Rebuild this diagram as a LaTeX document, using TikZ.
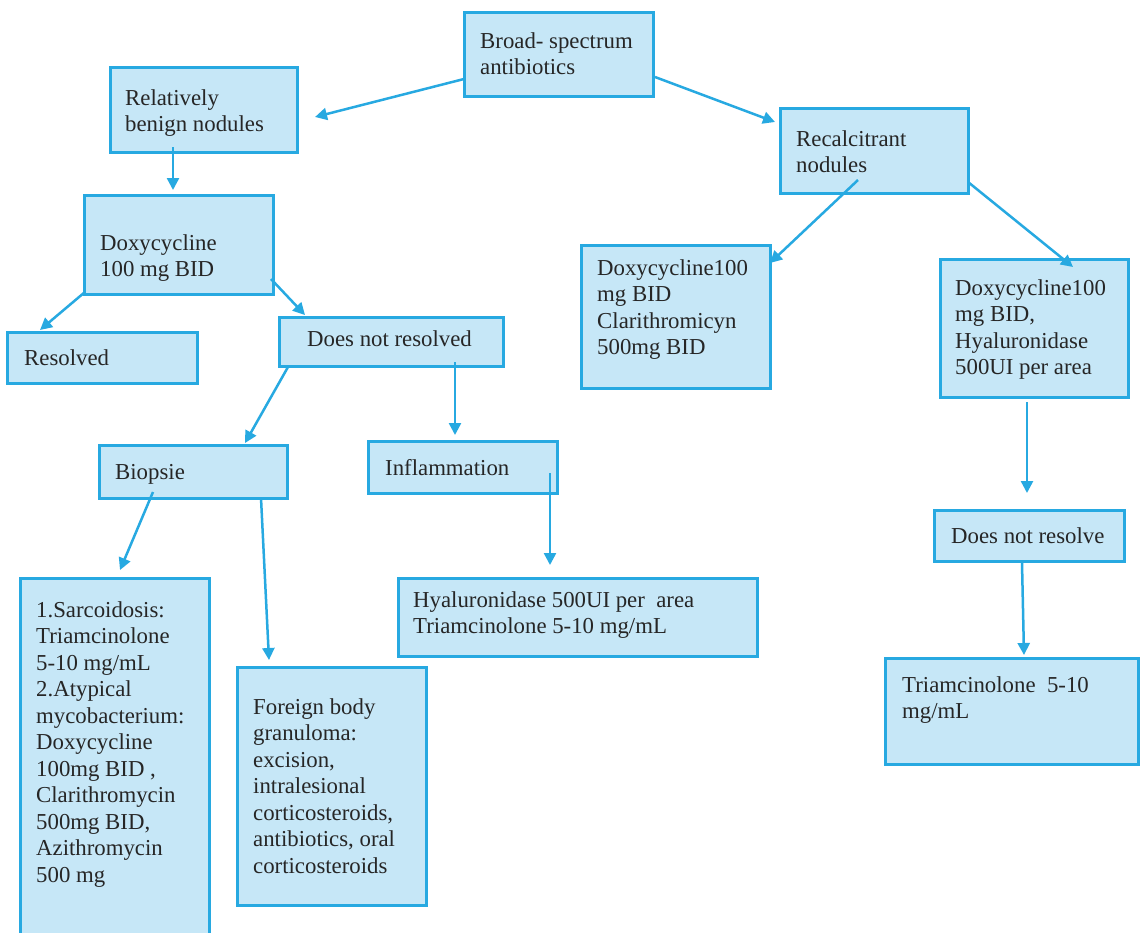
\documentclass[tikz,border=0pt]{standalone}
\usepackage{fontspec}
\setmainfont{Liberation Serif}
\usetikzlibrary{arrows.meta,calc}
\definecolor{bxline}{HTML}{27A9E1}
\definecolor{bxfill}{HTML}{C6E7F7}
\definecolor{txtc}{HTML}{262626}
\newcommand{\lines}[1]{\begin{tabular}[t]{@{}l@{}}#1\end{tabular}}
\begin{document}
\begin{tikzpicture}[x=1pt,y=-1pt,
  box/.style={draw=bxline, fill=bxfill, line width=3pt, rectangle, inner sep=0pt, outer sep=0pt, anchor=north west},
  txt/.style={anchor=base west, inner sep=0pt, text=txtc, font=\fontsize{22.8}{26.5}\selectfont},
  arr/.style={draw=bxline, line width=2.5pt, -{Triangle[length=12pt,width=12pt]}}]
\fill[white] (0,0) rectangle (1140,932);
\clip (0,0) rectangle (1140,932);
% boxes
\node[box, minimum width=189pt, minimum height=84pt] (broad) at (464,12) {};
\node[box, minimum width=187pt, minimum height=85pt] (benign) at (110,67) {};
\node[box, minimum width=188pt, minimum height=85pt] (recal) at (780,108) {};
\node[box, minimum width=189pt, minimum height=99pt] (doxy) at (84,195) {};
\node[box, minimum width=190pt, minimum height=51pt] (resolved) at (7,332) {};
\node[box, minimum width=224pt, minimum height=49pt] (dnr) at (279,317) {};
\node[box, minimum width=188pt, minimum height=53pt] (biopsie) at (99,445) {};
\node[box, minimum width=189pt, minimum height=52pt] (inflam) at (368,441) {};
\node[box, minimum width=189pt, minimum height=143pt] (doxclar) at (581,245) {};
\node[box, minimum width=188pt, minimum height=138pt] (doxhyal) at (940,259) {};
\node[box, minimum width=190pt, minimum height=51pt] (dnrtwo) at (934,510) {};
\node[box, minimum width=253pt, minimum height=106pt] (triam) at (885,658) {};
\node[box, minimum width=189pt, minimum height=370pt] (sarc) at (20,578) {};
\node[box, minimum width=189pt, minimum height=238pt] (foreign) at (237,667) {};
\node[box, minimum width=359pt, minimum height=78pt] (hyal) at (398,578) {};
% texts
\node[txt] (broad-t) at (480,48) {\lines{Broad- spectrum\\antibiotics}};
\node[txt] (benign-t) at (125,105) {\lines{Relatively\\benign nodules}};
\node[txt] (recal-t) at (796,146) {\lines{Recalcitrant\\nodules}};
\node[txt] (doxy-t) at (100,250) {\lines{Doxycycline\\100 mg BID}};
\node[txt] (resolved-t) at (24,365) {Resolved};
\node[txt] (dnr-t) at (307,346) {Does not resolved};
\node[txt] (biopsie-t) at (115,479) {Biopsie};
\node[txt] (inflam-t) at (385,475) {Inflammation};
\node[txt] (doxclar-t) at (597,275) {\lines{Doxycycline100\\mg BID\\Clarithromicyn\\500mg BID}};
\node[txt] (doxhyal-t) at (955,295) {\lines{Doxycycline100\\mg BID,\\Hyaluronidase\\500UI per area}};
\node[txt] (dnrtwo-t) at (951,543) {Does not resolve};
\node[txt] (triam-t) at (902,692) {\lines{Triamcinolone~ 5-10\\mg/mL}};
\node[txt] (sarc-t) at (36,617) {\lines{1.Sarcoidosis:\\Triamcinolone\\5-10 mg/mL\\2.Atypical\\mycobacterium:\\Doxycycline\\100mg BID ,\\Clarithromycin\\500mg BID,\\Azithromycin\\500 mg}};
\node[txt] (foreign-t) at (253,714) {\lines{Foreign body\\granuloma:\\excision,\\intralesional\\corticosteroids,\\antibiotics, oral\\corticosteroids}};
\node[txt] (hyal-t) at (413,607) {\lines{Hyaluronidase 500UI per~ area\\Triamcinolone 5-10 mg/mL}};
% connectors
\draw[arr] ($(broad.north west)+(0,67)$) -- ($(benign.north east)+(18,50)$);
\draw[arr] ($(broad.north east)+(2,65)$) -- ($(recal.north west)+(-5,14)$);
\draw[arr] ($(benign.south west)+(63,-5)$) -- ($(doxy.north west)+(89,-5)$);
\draw[arr] ($(doxy.south west)+(1,-2)$) -- ($(resolved.north west)+(33,-2)$);
\draw[arr] ($(doxy.south east)+(-2,-15)$) -- ($(dnr.north west)+(26,-2)$);
\draw[arr] ($(dnr.south west)+(9,1)$) -- ($(biopsie.north west)+(146,-2)$);
\draw[arr] ($(dnr.south west)+(176,-4)$) -- ($(inflam.north west)+(87,-6)$);
\draw[arr] ($(biopsie.south west)+(54,-6)$) -- ($(sarc.north west)+(100,-8)$);
\draw[arr] ($(biopsie.south east)+(-26,0)$) -- ($(foreign.north west)+(32,-7)$);
\draw[arr] ($(inflam.south west)+(182,-20)$) -- ($(hyal.north west)+(152,-13)$);
\draw[arr] ($(recal.south west)+(78,-13)$) -- ($(doxclar.north east)+(0,18)$);
\draw[arr] ($(recal.south east)+(0,-11)$) -- ($(doxhyal.north west)+(133,8)$);
\draw[arr] ($(doxhyal.south west)+(87,5)$) -- ($(dnrtwo.north west)+(93,-17)$);
\draw[arr] ($(dnrtwo.south west)+(88,2)$) -- ($(triam.north west)+(139,-3)$);
\end{tikzpicture}
\end{document}
